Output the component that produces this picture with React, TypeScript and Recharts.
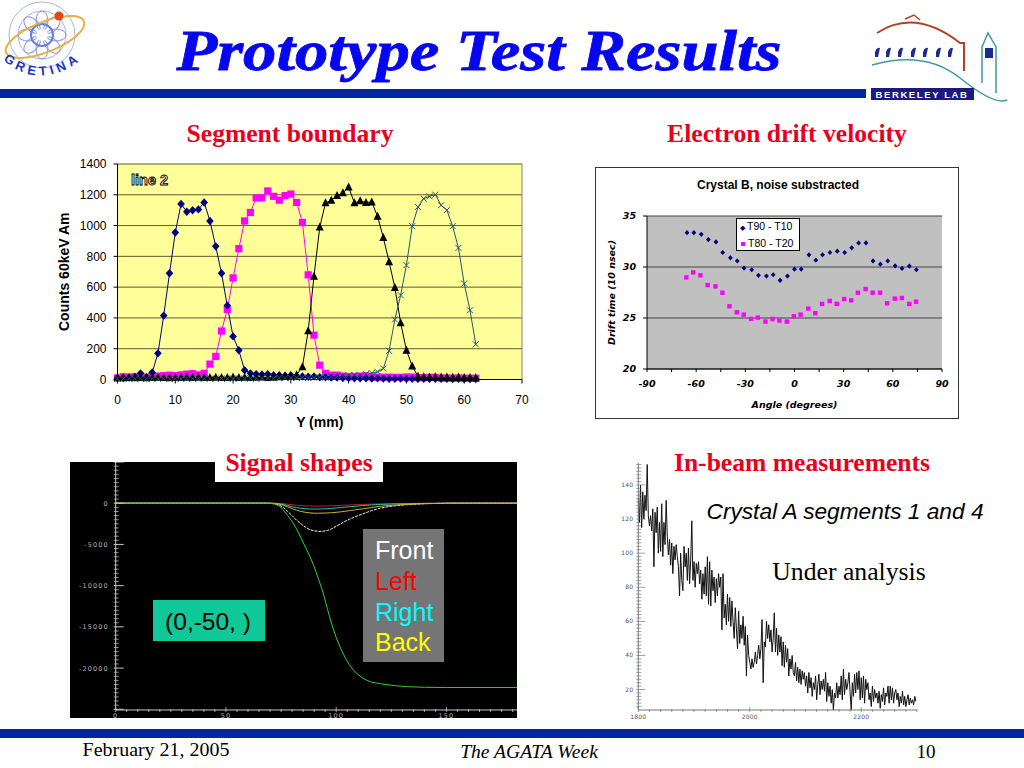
import React from 'react';
import {
  CartesianGrid,
  Label,
  Legend,
  Line,
  LineChart,
  ReferenceLine,
  Scatter,
  ScatterChart,
  XAxis,
  YAxis,
} from 'recharts';

// Segment boundary: counts per Y position, one value for every mm from 0 to 62
const diamondCounts = [8, 10, 12, 18, 40, 15, 45, 170, 415, 690, 955, 1140, 1090, 1100, 1105, 1150, 1030, 865, 690, 480, 280, 190, 60, 40, 35, 32, 35, 28, 28, 25, 28, 22, 20, 18, 20, 15, 15, 12, 12, 10, 10, 8, 8, 8, 6, 8, 6, 5, 5, 6, 5, 5, 4, 5, 4, 5, 4, 4, 3, 4, 3, 3, 3];
const squareCounts = [10, 18, 16, 18, 20, 15, 18, 22, 25, 28, 25, 30, 35, 38, 30, 40, 100, 150, 315, 455, 660, 850, 1030, 1085, 1180, 1180, 1225, 1190, 1165, 1195, 1205, 1150, 1020, 680, 288, 93, 40, 28, 28, 22, 18, 20, 22, 24, 18, 15, 15, 15, 14, 14, 16, 16, 12, 12, 14, 14, 10, 10, 8, 10, 8, 8, 8];
const triangleCounts = [12, 10, 12, 10, 12, 10, 12, 14, 12, 10, 12, 12, 14, 12, 14, 12, 12, 14, 12, 12, 15, 12, 14, 12, 14, 15, 12, 14, 18, 20, 22, 30, 82, 316, 670, 990, 1147, 1164, 1195, 1212, 1250, 1147, 1160, 1150, 1153, 1060, 922, 764, 597, 368, 190, 87, 20, 18, 15, 18, 15, 16, 14, 15, 12, 12, 10];
const crossCounts = [5, 5, 6, 5, 5, 4, 5, 5, 6, 5, 5, 4, 6, 5, 5, 6, 5, 5, 6, 5, 6, 5, 6, 8, 6, 8, 10, 8, 10, 8, 10, 10, 12, 10, 12, 15, 12, 18, 20, 25, 28, 30, 25, 35, 42, 50, 71, 186, 390, 548, 743, 996, 1121, 1175, 1190, 1201, 1132, 1100, 996, 855, 623, 450, 229];
const boundaryTicksX = [0, 10, 20, 30, 40, 50, 60, 70];
const boundaryTicksY = [0, 200, 400, 600, 800, 1000, 1200, 1400];

// Electron drift velocity
const t90Angles = [-65.6, -61.4, -56.9, -52.6, -47.9, -43.8, -39.1, -34.9, -30.8, -26.1, -22, -17.1, -13, -8.8, -4.3, 0, 4.1, 8.8, 13, 17.1, 21.6, 26.1, 30.6, 34.9, 39.1, 43.6, 47.9, 52.4, 56.9, 61.4, 65.6, 70.1, 74.4];
const t90Values = [33.37, 33.37, 33.2, 32.69, 32.46, 31.42, 30.9, 30.6, 29.89, 29.73, 29.18, 29.11, 29.24, 28.69, 29.11, 29.79, 29.79, 31.19, 30.67, 31.19, 31.42, 31.55, 31.42, 31.88, 32.36, 32.36, 30.6, 30.28, 30.6, 30.12, 29.86, 30.09, 29.73];
const t80Angles = [-66, -61.8, -57.4, -53, -48.2, -44, -39.7, -35.2, -31, -26.5, -22.4, -17.7, -13.4, -9.2, -4.7, -0.4, 3.7, 8.4, 12.7, 16.8, 21.5, 25.8, 30.3, 34.6, 38.7, 43.4, 47.7, 52.2, 56.5, 61.2, 65.5, 70, 74.2];
const t80Values = [28.98, 29.47, 29.18, 28.23, 28.1, 27.48, 26.15, 25.56, 25.33, 24.91, 25.04, 24.65, 24.91, 24.75, 24.65, 25.17, 25.33, 25.92, 25.47, 26.38, 26.67, 26.38, 26.86, 26.73, 27.48, 27.84, 27.48, 27.48, 26.44, 26.9, 26.96, 26.38, 26.6];
const driftTicksX = [-90, -75, -60, -45, -30, -15, 0, 15, 30, 45, 60, 75, 90];
const driftTicksY = [20, 25, 30, 35];

// Signal shapes
const signalTimes = [0, 68, 70, 72, 74, 76, 78, 80, 82, 84, 86, 88, 90, 92, 94, 96, 98, 100, 102, 104, 106, 108, 110, 112, 114, 116, 118, 120, 124, 128, 132, 140, 150, 182];
const signalGreen = [0, 0, -20, -100, -300, -800, -1500, -2200, -3100, -4200, -5300, -6400, -7700, -9200, -10800, -12800, -14700, -16300, -17600, -18700, -19600, -20300, -20800, -21200, -21500, -21700, -21800, -21900, -22050, -22170, -22250, -22330, -22350, -22350];
const signalFront = [0, 0, -10, -60, -200, -500, -1000, -1500, -2050, -2500, -2900, -3200, -3350, -3420, -3400, -3300, -3100, -2800, -2500, -2200, -1950, -1700, -1500, -1300, -1100, -900, -750, -600, -400, -280, -180, -60, 0, 0];
const signalBack = [0, 0, 0, -30, -100, -250, -450, -650, -850, -1000, -1100, -1170, -1213, -1215, -1200, -1180, -1150, -1100, -1050, -980, -900, -830, -750, -680, -600, -520, -440, -380, -280, -200, -140, -50, -10, 0];
const signalRight = [0, 0, 0, -15, -60, -150, -280, -420, -530, -610, -670, -700, -710, -700, -690, -660, -620, -580, -530, -480, -430, -380, -330, -290, -250, -210, -180, -150, -110, -80, -50, -20, 0, 0];
const signalLeft = [0, 0, 0, -5, -20, -60, -120, -180, -240, -290, -320, -340, -350, -350, -340, -330, -310, -290, -270, -240, -220, -190, -170, -150, -130, -110, -90, -80, -60, -40, -30, -10, 0, 0];
const signalTicksX = Array.from({ length: 37 }, (_, i) => i * 5);
const signalTicksY = Array.from({ length: 61 }, (_, i) => 5000 - i * 500);

// In-beam spectrum, one reading every 2 channels from 1800, a row per 50 channels
const spectrumCounts = [
  132, 118, 140, 115, 136, 120, 134, 125, 152, 122, 116, 122, 113, 126, 92, 124, 112, 127, 100, 118, 101, 129, 98, 118, 105,
  131, 110, 99, 108, 93, 106, 88, 104, 96, 105, 98, 92, 75, 100, 84, 78, 104, 92, 100, 84, 103, 82, 96, 119, 84,
  95, 80, 94, 88, 95, 82, 90, 73, 88, 76, 92, 75, 98, 70, 95, 69, 90, 78, 86, 71, 85, 75, 88, 80, 86,
  55, 88, 62, 70, 58, 76, 60, 74, 57, 72, 60, 50, 68, 56, 44, 66, 47, 58, 50, 63, 46, 57, 28, 52, 40,
  36, 32, 38, 33, 36, 42, 35, 40, 46, 38, 44, 61, 24, 48, 45, 60, 50, 58, 48, 55, 42, 50, 65, 42, 56,
  40, 52, 42, 51, 34, 48, 33, 46, 36, 44, 28, 38, 32, 40, 30, 28, 36, 25, 33, 24, 32, 23, 31, 26, 30,
  22, 28, 18, 30, 21, 27, 16, 24, 20, 28, 14, 23, 29, 17, 25, 20, 26, 19, 30, 13, 24, 16, 22, 12, 20,
  8, 18, 15, 24, 15, 22, 17, 28, 14, 32, 17, 26, 20, 24, 30, 18, 8, 24, 16, 29, 18, 30, 20, 31, 14,
  27, 15, 28, 12, 26, 20, 24, 14, 18, 10, 22, 13, 20, 15, 18, 12, 19, 9, 17, 13, 21, 11, 18, 16, 22,
  12, 22, 14, 21, 12, 18, 20, 14, 18, 10, 16, 12, 19, 11, 16, 10, 14, 17, 11, 15, 12, 14, 11, 16, 13,
];
const spectrumTicksX = Array.from({ length: 26 }, (_, i) => 1800 + i * 20);
const spectrumTicksY = Array.from({ length: 72 }, (_, i) => 10 + i * 2);

const boundaryRows = diamondCounts.map((v, i) => ({
  y: i,
  diamond: v,
  square: squareCounts[i],
  triangle: triangleCounts[i],
  cross: crossCounts[i],
}));
const t90Points = t90Angles.map((a, i) => ({ angle: a, time: t90Values[i] }));
const t80Points = t80Angles.map((a, i) => ({ angle: a, time: t80Values[i] }));
const signalRows = signalTimes.map((t, i) => ({
  t,
  green: signalGreen[i],
  front: signalFront[i],
  back: signalBack[i],
  right: signalRight[i],
  left: signalLeft[i],
  sum: t >= 150 ? 0 : null,
}));
const spectrumRows = spectrumCounts.map((v, i) => ({ ch: 1800 + i * 2, v }));

const SANS = '"Liberation Sans", Arial, sans-serif';
const SERIF = '"Liberation Serif", "Times New Roman", serif';
const WIDE = '"DejaVu Sans", Verdana, sans-serif';

const diamondDot = (p: any) => (
  <path key={p.key} d={`M${p.cx},${p.cy - 4.2}L${p.cx + 3.8},${p.cy}L${p.cx},${p.cy + 4.2}L${p.cx - 3.8},${p.cy}Z`} fill="#000080" />
);
const squareDot = (p: any) => <rect key={p.key} x={p.cx - 3.6} y={p.cy - 3.6} width={7.2} height={7.2} fill="#ff00ff" />;
const triangleDot = (p: any) => (
  <path key={p.key} d={`M${p.cx},${p.cy - 4.6}L${p.cx + 4},${p.cy + 3.4}L${p.cx - 4},${p.cy + 3.4}Z`} fill="#000000" />
);
const crossDot = (p: any) => (
  <path key={p.key} d={`M${p.cx - 3},${p.cy - 3}L${p.cx + 3},${p.cy + 3}M${p.cx - 3},${p.cy + 3}L${p.cx + 3},${p.cy - 3}`} stroke="#1f5a70" strokeWidth={1} fill="none" />
);

function SegmentBoundary() {
  const tick = { fontSize: 12, fill: '#000', fontFamily: SANS };
  const axisTitle = { fontSize: 14, fontWeight: 700, fontFamily: SANS, fill: '#000' };
  return (
    <div style={{ position: 'absolute', left: 50, top: 150 }}>
      <LineChart width={490} height={290} data={boundaryRows} margin={{ top: 14, right: 18, bottom: 20, left: 0 }}>
        <CartesianGrid vertical={false} fill="#ffff99" stroke="#5c5c30" />
        <XAxis
          dataKey="y"
          type="number"
          domain={[0, 70]}
          ticks={boundaryTicksX}
          interval={0}
          height={40.5}
          tick={tick}
          tickSize={4}
          tickMargin={12}
          stroke="#000"
        >
          <Label value="Y (mm)" position="insideBottom" offset={-7} style={axisTitle} />
        </XAxis>
        <YAxis domain={[0, 1400]} ticks={boundaryTicksY} interval={0} width={67.5} tick={tick} tickSize={4} tickMargin={7} stroke="#000">
          <Label value="Counts 60keV Am" angle={-90} position="insideLeft" offset={14} style={{ ...axisTitle, textAnchor: 'middle' }} />
        </YAxis>
        <ReferenceLine x={70} stroke="#808080" />
        <Line dataKey="square" stroke="#ff00ff" strokeWidth={1} dot={squareDot} isAnimationActive={false} />
        <Line dataKey="diamond" stroke="#000080" strokeWidth={1} dot={diamondDot} isAnimationActive={false} />
        <Line dataKey="triangle" stroke="#000" strokeWidth={1} dot={triangleDot} isAnimationActive={false} />
        <Line dataKey="cross" stroke="#1f5a70" strokeWidth={1} dot={crossDot} isAnimationActive={false} />
      </LineChart>
    </div>
  );
}

const driftLegend = () => (
  <div style={{ width: 62, height: 31, background: '#fff', border: '1px solid #000', fontFamily: SANS, fontSize: 10.5, lineHeight: '15.5px', color: '#000', whiteSpace: 'nowrap' }}>
    <div>
      <span style={{ color: '#000080', margin: '0 2px 0 3px', fontSize: 7 }}>◆</span>T90 - T10
    </div>
    <div>
      <span style={{ display: 'inline-block', width: 4, height: 4, background: '#ff00ff', margin: '0 3px 1px 4px' }} />T80 - T20
    </div>
  </div>
);

function DriftVelocity() {
  const tick = { fontSize: 9.5, fontWeight: 700, fontStyle: 'italic', fill: '#000', fontFamily: WIDE };
  const xTick = (p: any) => (
    <text x={p.x} y={p.y + 13} textAnchor="middle" {...tick}>
      {p.payload.value % 30 === 0 ? p.payload.value : ''}
    </text>
  );
  return (
    <div style={{ position: 'absolute', left: 595, top: 167, width: 362, height: 250, border: '1.5px solid #333', background: '#fff' }}>
      <div style={{ position: 'absolute', left: 0, right: 0, top: 10, textAlign: 'center', font: `700 12px ${SANS}`, color: '#000', marginLeft: 2 }}>Crystal B, noise substracted</div>
      <ScatterChart width={362} height={250} margin={{ top: 48, right: 16, bottom: 20, left: 0 }}>
        <CartesianGrid vertical={false} fill="#c0c0c0" stroke="#444" />
        <XAxis dataKey="angle" type="number" domain={[-90, 90]} ticks={driftTicksX} interval={0} height={29} tick={xTick} tickSize={3} stroke="#000">
          <Label value="Angle (degrees)" position="insideBottom" offset={-10} style={{ ...tick, fontSize: 9.5 }} />
        </XAxis>
        <YAxis dataKey="time" type="number" domain={[20, 35]} ticks={driftTicksY} interval={0} width={51} tick={tick} tickSize={4} tickMargin={7} stroke="#000">
          <Label value="Drift time (10 nsec)" angle={-90} position="insideLeft" offset={16} style={{ ...tick, fontSize: 9.5, textAnchor: 'middle' }} />
        </YAxis>
        <Legend layout="vertical" align="center" verticalAlign="middle" content={driftLegend} wrapperStyle={{ left: 140, top: 50, width: 64 }} />
        <Scatter
          name="T90 - T10"
          data={t90Points}
          isAnimationActive={false}
          shape={(p: any) => <path d={`M${p.cx},${p.cy - 2.6}L${p.cx + 2.4},${p.cy}L${p.cx},${p.cy + 2.6}L${p.cx - 2.4},${p.cy}Z`} fill="#000080" />}
        />
        <Scatter
          name="T80 - T20"
          data={t80Points}
          isAnimationActive={false}
          shape={(p: any) => <rect x={p.cx - 2.2} y={p.cy - 2.2} width={4.4} height={4.4} fill="#ff00ff" />}
        />
      </ScatterChart>
    </div>
  );
}

const tinyLabel = { fontSize: 6.5, letterSpacing: 1.1, fontFamily: WIDE };

function SignalShapes() {
  const yTick = (p: any) => {
    const major = p.payload.value % 5000 === 0;
    return (
      <g>
        <line x1={p.x} x2={p.x + (major ? 10 : 5)} y1={p.y} y2={p.y} stroke="#c8c8c8" strokeWidth={major ? 1 : 0.7} />
        {major && p.payload.value <= 0 && p.payload.value > -25000 && (
          <text x={p.x - 5} y={p.y + 2.5} textAnchor="end" fill="#b4b4b4" {...tinyLabel}>
            {p.payload.value}
          </text>
        )}
      </g>
    );
  };
  const xTick = (p: any) => {
    const major = p.payload.value % 50 === 0;
    return (
      <g>
        <line x1={p.x} x2={p.x} y1={p.y} y2={p.y - (major ? 5 : 3)} stroke="#c8c8c8" strokeWidth={0.8} />
        {major && (
          <text x={p.x} y={p.y + 5.5} textAnchor="middle" fill="#b4b4b4" {...tinyLabel}>
            {p.payload.value}
          </text>
        )}
      </g>
    );
  };
  return (
    <div style={{ position: 'absolute', left: 70, top: 462, background: '#000' }}>
      <LineChart width={447} height={256} data={signalRows} margin={{ top: 0, right: 0, bottom: 0, left: 0 }}>
        <XAxis dataKey="t" type="number" domain={[0, 182]} ticks={signalTicksX} interval={0} height={8} tick={xTick} tickSize={0} tickLine={false} stroke="#c8c8c8" />
        <YAxis domain={[-25085, 5000]} ticks={signalTicksY} interval={0} width={45.7} tick={yTick} tickSize={0} tickLine={false} stroke="#c8c8c8" />
        <Line dataKey="left" stroke="#d01818" strokeWidth={1} dot={false} isAnimationActive={false} />
        <Line dataKey="right" stroke="#20c0c8" strokeWidth={1} dot={false} isAnimationActive={false} />
        <Line dataKey="front" stroke="#f0f0f0" strokeWidth={1} strokeDasharray="3 1" dot={false} isAnimationActive={false} />
        <Line dataKey="back" stroke="#c8b820" strokeWidth={1} dot={false} isAnimationActive={false} />
        <Line dataKey="green" stroke="#30d030" strokeWidth={1} dot={false} isAnimationActive={false} />
        <Line dataKey="sum" stroke="#e09040" strokeWidth={1} dot={false} isAnimationActive={false} />
      </LineChart>
    </div>
  );
}

function InBeamSpectrum() {
  const label = { fill: '#555', ...tinyLabel, fontSize: 6, letterSpacing: 0.2 };
  const yTick = (p: any) => {
    const major = p.payload.value % 20 === 0;
    return (
      <g>
        <line x1={p.x} x2={p.x + (major ? 9 : 5)} y1={p.y} y2={p.y} stroke="#777" strokeWidth={0.7} />
        {major && (
          <text x={p.x - 3} y={p.y + 2} textAnchor="end" {...label}>
            {p.payload.value}
          </text>
        )}
      </g>
    );
  };
  const xTick = (p: any) => {
    const major = p.payload.value % 200 === 0;
    return (
      <g>
        <line x1={p.x} x2={p.x} y1={p.y} y2={p.y - (major ? 5 : 3)} stroke="#777" strokeWidth={0.7} />
        {major && (
          <text x={p.x} y={p.y + 7} textAnchor="middle" {...label}>
            {p.payload.value}
          </text>
        )}
      </g>
    );
  };
  return (
    <div style={{ position: 'absolute', left: 600, top: 460 }}>
      <LineChart width={330} height={262} data={spectrumRows} margin={{ top: 3, right: 13, bottom: 0, left: 0 }}>
        <XAxis dataKey="ch" type="number" domain={[1800, 2300]} ticks={spectrumTicksX} interval={0} height={12} tick={xTick} tickSize={0} tickLine={false} stroke="#777" />
        <YAxis domain={[8.3, 152.9]} ticks={spectrumTicksY} interval={0} width={38.3} tick={yTick} tickSize={0} tickLine={false} stroke="#777" />
        <Line dataKey="v" stroke="#111" strokeWidth={1} dot={false} isAnimationActive={false} />
      </LineChart>
    </div>
  );
}

function GretinaLogo() {
  const petals = [0, 45, 90, 135, 180, 225, 270, 315];
  return (
    <svg width={100} height={90} style={{ position: 'absolute', left: 0, top: 0 }}>
      <g fill="none" stroke="#a8b4e8" strokeWidth={1}>
        <circle cx={42} cy={35} r={33} />
        <circle cx={42} cy={35} r={24} />
        {petals.map((a) => (
          <ellipse key={a} cx={42} cy={21} rx={6} ry={10} transform={`rotate(${a} 42 35)`} stroke="#8494e4" />
        ))}
        <circle cx={42} cy={35} r={11} stroke="#6a7ce0" strokeWidth={2} />
      </g>
      <circle cx={42} cy={35} r={6} fill="#fff" />
      <ellipse cx={45} cy={37} rx={42} ry={15} transform="rotate(-22 45 37)" fill="none" stroke="#e8b040" strokeWidth={2} />
      <circle cx={59} cy={16} r={4.5} fill="#e04818" />
      <path id="gretinaArc" d="M3,60 Q40,92 84,58" fill="none" />
      <text fontFamily={SANS} fontWeight={700} fontSize={13} fill="#1838c8" letterSpacing={4}>
        <textPath href="#gretinaArc">GRETINA</textPath>
      </text>
    </svg>
  );
}

function BerkeleyLogo() {
  const windows = [877, 888, 900, 913, 925, 938, 950];
  return (
    <svg width={1024} height={110} style={{ position: 'absolute', left: 0, top: 0 }}>
      <path d="M877,33 Q915,8 960,43 L964,43 L964,71" fill="none" stroke="#b84020" strokeWidth={2} />
      <path d="M905,19 L914,15 L920,20" fill="none" stroke="#b84020" strokeWidth={1.5} />
      {windows.map((x) => (
        <path key={x} d={`M${x - 2},57 L${x - 2},52 Q${x},47 ${x + 3},48 L${x + 1},57 Z`} fill="#1a2a90" />
      ))}
      <path d="M872,65 Q925,50 960,78 T1007,100" fill="none" stroke="#3c9aa0" strokeWidth={1.5} />
      <path d="M982,83 L982,47 L988,33 L996,47 L996,93" fill="none" stroke="#3c9aa0" strokeWidth={1.5} />
      <rect x={985} y={48} width={8} height={10} fill="#1a2a90" />
      <rect x={871} y={88} width={103} height={12} fill="#1a1a80" />
      <text x={922} y={97.8} textAnchor="middle" fill="#fff" fontFamily={SANS} fontWeight={700} fontSize={9.5} letterSpacing={1.6}>
        BERKELEY LAB
      </text>
    </svg>
  );
}

function Text({ x, y, size, color = '#000', bold, italic, serif, children, stretch, heavy }: any) {
  return (
    <div
      style={{
        position: 'absolute',
        left: x,
        top: y,
        transform: `translate(-50%, -50%)${stretch ? ` scaleX(${stretch})` : ''}`,
        fontFamily: serif ? SERIF : SANS,
        fontSize: size,
        fontWeight: bold ? 700 : 400,
        fontStyle: italic ? 'italic' : 'normal',
        color,
        whiteSpace: 'nowrap',
        WebkitTextStroke: heavy ? `${heavy}px ${color}` : undefined,
      }}
    >
      {children}
    </div>
  );
}

export default function App() {
  return (
    <div style={{ position: 'absolute', left: 0, top: 0, width: 1024, height: 768, background: '#fff', overflow: 'hidden' }}>
      <div style={{ position: 'absolute', left: 0, top: 89, width: 866, height: 9, background: '#06279c' }} />
      <div style={{ position: 'absolute', left: 0, top: 729, width: 1024, height: 9, background: '#06279c' }} />
      <GretinaLogo />
      <BerkeleyLogo />
      <Text x={479} y={50} size={57} color="#0606f0" bold italic serif stretch={1.17} heavy={0.8}>Prototype Test Results</Text>

      <SegmentBoundary />
      <DriftVelocity />
      <SignalShapes />
      <InBeamSpectrum />

      <div style={{ position: 'absolute', left: 131, top: 172, font: `700 14.5px ${SANS}`, color: '#fff', WebkitTextStroke: '0.9px #000' }}>line 2</div>

      <Text x={290} y={134} size={25.6} color="#e8001c" bold serif>Segment boundary</Text>
      <Text x={787} y={134} size={25.6} color="#e8001c" bold serif>Electron drift velocity</Text>
      <div style={{ position: 'absolute', left: 215, top: 448, width: 168, height: 34, background: '#fff' }} />
      <Text x={299} y={463} size={25.6} color="#e8001c" bold serif>Signal shapes</Text>
      <Text x={802} y={463} size={25.6} color="#e8001c" bold serif>In-beam measurements</Text>

      <div style={{ position: 'absolute', left: 153, top: 600, width: 112, height: 41, background: '#10c898' }} />
      <Text x={208} y={622} size={24.5}>(0,-50, )</Text>
      <div style={{ position: 'absolute', left: 363, top: 529, width: 81, height: 133, background: '#757575' }} />
      <div style={{ position: 'absolute', left: 375, top: 535, font: `25px/30.8px ${SANS}` }}>
        <div style={{ color: '#fff' }}>Front</div>
        <div style={{ color: '#ff0000' }}>Left</div>
        <div style={{ color: '#00ffff' }}>Right</div>
        <div style={{ color: '#ffff00' }}>Back</div>
      </div>

      <Text x={845} y={511} size={22.7} italic>Crystal A segments 1 and 4</Text>
      <Text x={849} y={572} size={25.7} serif>Under analysis</Text>

      <Text x={156} y={750} size={19} serif stretch={1.05}>February 21, 2005</Text>
      <Text x={529} y={752} size={19} italic serif stretch={1.03}>The AGATA Week</Text>
      <Text x={926} y={752} size={19} serif>10</Text>
    </div>
  );
}
